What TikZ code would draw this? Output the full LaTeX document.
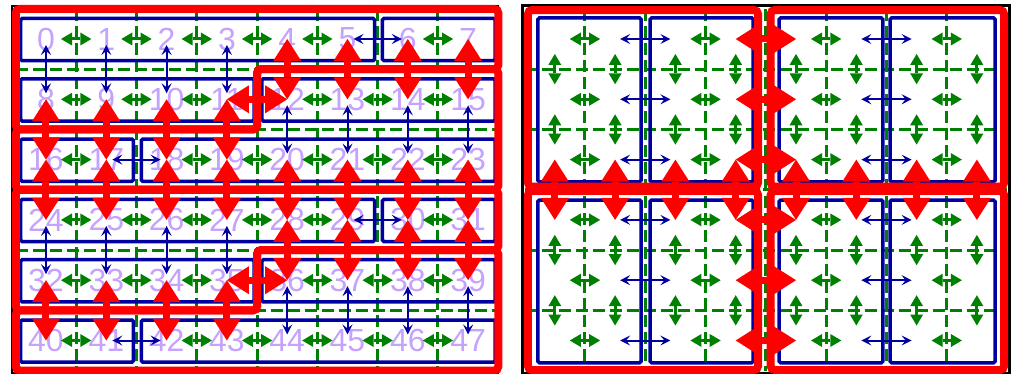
\documentclass[tikz,border=0pt]{standalone}
\usepackage{fontspec}
\setmainfont{Liberation Sans}
\usetikzlibrary{arrows.meta}
\definecolor{nodered}{RGB}{255,0,0}
\definecolor{procblue}{RGB}{0,0,160}
\definecolor{gridgreen}{RGB}{0,128,0}
\definecolor{ranklilac}{RGB}{198,162,255}

\begin{document}
\begin{tikzpicture}[x=60.3pt, y=-60.3pt,
  gridline/.style={gridgreen, line width=3pt, dash pattern=on 12pt off 5pt},
  rank/.style={text=ranklilac, font=\fontsize{32}{32}\selectfont, inner sep=0pt},
  procbox/.style={draw=procblue, line width=3.5pt, rounded corners=1.5pt},
  nodeline/.style={draw=nodered, line width=8pt, rounded corners=4pt},
  localcomm/.style={gridgreen, line width=3pt, shorten <=15pt, shorten >=15pt,
    {Triangle[length=11pt,width=13pt,line width=0pt]}-{Triangle[length=11pt,width=13pt,line width=0pt]}},
  shmcomm/.style={procblue, line width=2pt, shorten <=6pt, shorten >=6pt,
    {Stealth[length=10pt,width=10pt,inset=4pt]}-{Stealth[length=10pt,width=10pt,inset=4pt]}},
  netcomm/.style={nodered, line width=7pt,
    {Triangle[length=22pt,width=28pt,line width=0pt]}-{Triangle[length=22pt,width=28pt,line width=0pt]}}]
  \useasboundingbox (-0.76285,-0.64677) rectangle (16.0531,5.55556);

  % panel frames
  \draw[line width=2.5pt] (-0.564,-0.55) rectangle (7.496,5.54);
  \draw[line width=3pt] (7.894,-0.55) rectangle (15.97,5.54);

  % left panel: 8x6 grid with the ranks
  \foreach \k in {1,...,7} \draw[gridline] (\k-0.5,-0.5) -- (\k-0.5,5.5);
  \foreach \k in {1,...,5} \draw[gridline] (-0.5,\k-0.5) -- (7.5,\k-0.5);
  \foreach \i in {0,...,47} {
    \pgfmathtruncatemacro{\ci}{mod(\i,8)}
    \pgfmathtruncatemacro{\ri}{\i/8}
    \node[rank] (n\i) at (\ci,\ri) {\i};
  }
  % processes = blue boxes
  \foreach \ca/\cb/\ri in {0/5/0,6/7/0,0/3/1,4/7/1,0/1/2,2/7/2,0/5/3,6/7/3,0/3/4,4/7/4,0/1/5,2/7/5}
    \draw[procbox] (\ca-0.42,\ri-0.34) rectangle (\cb+0.45,\ri+0.36);
  % exchanges inside a process
  \foreach \ia/\ib in {0/1,1/2,2/3,3/4,4/5,6/7,8/9,9/10,10/11,12/13,13/14,14/15,
      16/17,18/19,19/20,20/21,21/22,22/23,24/25,25/26,26/27,27/28,28/29,30/31,
      32/33,33/34,34/35,36/37,37/38,38/39,40/41,42/43,43/44,44/45,45/46,46/47}
    \draw[localcomm] (n\ia.center) -- (n\ib.center);
  % exchanges between processes of one node
  \foreach \ia in {0,1,2,3,12,13,14,15,24,25,26,27,36,37,38,39} {
    \pgfmathtruncatemacro{\ib}{\ia+8}
    \draw[shmcomm] (n\ia.center) -- (n\ib.center);
  }
  \foreach \ia/\ib in {5/6,17/18,29/30,41/42}
    \draw[shmcomm] (n\ia.center) -- (n\ib.center);
  % nodes = red outlines
  \foreach \s in {0,3} {
    \begin{scope}[shift={(0,\s)}]
      \draw[nodeline] (-0.5,-0.5) -- (7.5,-0.5) -- (7.5,0.5) -- (3.5,0.5) -- (3.5,1.5) -- (-0.5,1.5) -- cycle;
      \draw[nodeline] (3.5,0.5) -- (7.5,0.5) -- (7.5,2.5) -- (-0.5,2.5) -- (-0.5,1.5) -- (3.5,1.5) -- cycle;
    \end{scope}
  }
  % exchanges between nodes
  \foreach \ia in {4,5,6,7,8,9,10,11,16,17,18,19,20,21,22,23,28,29,30,31,32,33,34,35} {
    \pgfmathtruncatemacro{\ib}{\ia+8}
    \draw[netcomm] (n\ia.center) -- (n\ib.center);
  }
  \foreach \ia/\ib in {11/12,35/36}
    \draw[netcomm] (n\ia.center) -- (n\ib.center);

  % right panel: same grid, 2x3 blocks
  \begin{scope}[shift={(8.438,0)}]
    \foreach \k in {1,...,7} \draw[gridline] (\k-0.5,-0.5) -- (\k-0.5,5.5);
    \foreach \k in {1,...,5} \draw[gridline] (-0.5,\k-0.5) -- (7.5,\k-0.5);
    \foreach \ri in {0,...,5}
      \foreach \ci in {0,...,7}
        \coordinate (p\ri\ci) at (\ci,\ri);
    \foreach \xa/\xb in {-0.28/1.43,1.58/3.29,3.72/5.44,5.56/7.30}
      \foreach \ya/\yb in {-0.35/2.37,2.67/5.37}
        \draw[procbox] (\xa,\ya) rectangle (\xb,\yb);
    \foreach \ri in {0,...,5} {
      \foreach \ci in {0,2,4,6} {
        \pgfmathtruncatemacro{\cj}{\ci+1}
        \draw[localcomm] (p\ri\ci) -- (p\ri\cj);
      }
      \foreach \ci in {1,5} {
        \pgfmathtruncatemacro{\cj}{\ci+1}
        \draw[shmcomm, shorten <=5pt, shorten >=5pt] (p\ri\ci) -- (p\ri\cj);
      }
    }
    \foreach \ri in {0,1,3,4} {
      \pgfmathtruncatemacro{\rj}{\ri+1}
      \foreach \ci in {0,...,7}
        \draw[localcomm] (p\ri\ci) -- (p\rj\ci);
    }
    \foreach \xa/\xb in {-0.445/3.37,3.58/7.45}
      \foreach \ya/\yb in {-0.48/2.45,2.52/5.49}
        \draw[nodeline] (\xa,\ya) rectangle (\xb,\yb);
    \foreach \ri in {0,...,5}
      \draw[netcomm] (p\ri3) -- (p\ri4);
    \foreach \ci in {0,...,7}
      \draw[netcomm] (p2\ci) -- (p3\ci);
  \end{scope}
\end{tikzpicture}
\end{document}
